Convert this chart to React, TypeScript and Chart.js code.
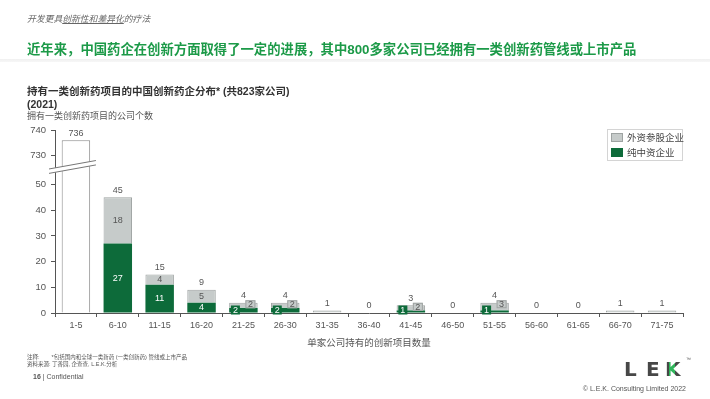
import React, { useEffect, useRef } from "react";
import { Chart, registerables, LinearScale } from "chart.js";

Chart.register(...registerables);

// ---------- DATA ----------
const categories = ["1-5", "6-10", "11-15", "16-20", "21-25", "26-30", "31-35", "36-40", "41-45", "46-50", "51-55", "56-60", "61-65", "66-70", "71-75"];
const firstBucket = [736, 0, 0, 0, 0, 0, 0, 0, 0, 0, 0, 0, 0, 0, 0];
const domesticOnly = [0, 27, 11, 4, 2, 2, 0, 0, 1, 0, 1, 0, 0, 0, 0];
const foreignInvested = [0, 18, 4, 5, 2, 2, 1, 0, 2, 0, 3, 0, 0, 1, 1];
const totals = [736, 45, 15, 9, 4, 4, 1, 0, 3, 0, 4, 0, 0, 1, 1];
const yTicks = [0, 10, 20, 30, 40, 50, 730, 740];
const BREAK_LOW = 50;
const BREAK_HIGH = 730;
const BREAK_GAP = 11.2;

const GREEN = "#0d6b3a";
const GREY = "#c6cbca";
const GREY_BORDER = "#9ea3a2";
const TEXT = "#555";
const FONT = '"Liberation Sans", "Noto Sans CJK SC", Arial, sans-serif';

function compress(v: number) {
  if (v <= BREAK_LOW) return v;
  if (v >= BREAK_HIGH) return BREAK_LOW + BREAK_GAP + (v - BREAK_HIGH);
  return BREAK_LOW + ((v - BREAK_LOW) / (BREAK_HIGH - BREAK_LOW)) * BREAK_GAP;
}

class BrokenLinearScale extends LinearScale {
  static id = "brokenLinear";
  static defaults = LinearScale.defaults;
  buildTicks() {
    return yTicks.map((value) => ({ value }));
  }
  getPixelForValue(value: number) {
    const lo = compress(this.min);
    const hi = compress(this.max);
    return this.getPixelForDecimal((compress(value) - lo) / (hi - lo));
  }
}
Chart.register(BrokenLinearScale);

function drawBox(ctx: CanvasRenderingContext2D, cx: number, cy: number, w: number, h: number, text: string, fill: string, color: string, border: string | null) {
  ctx.fillStyle = fill;
  ctx.fillRect(cx - w / 2, cy - h / 2, w, h);
  if (border) {
    ctx.strokeStyle = border;
    ctx.lineWidth = 1;
    ctx.strokeRect(cx - w / 2 + 0.5, cy - h / 2 + 0.5, w - 1, h - 1);
  }
  ctx.fillStyle = color;
  ctx.fillText(text, cx, cy + 0.5);
}

const labelPlugin = {
  id: "barLabels",
  afterDatasetsDraw(chart: any) {
    const { ctx } = chart;
    const x = chart.scales.x;
    const y = chart.scales.y;
    ctx.save();
    ctx.font = `9px ${FONT}`;
    ctx.textAlign = "center";
    ctx.textBaseline = "middle";
    categories.forEach((_, i) => {
      const cx = x.getPixelForValue(i);
      const base = y.getPixelForValue(0);
      const top = y.getPixelForValue(totals[i]);
      ctx.fillStyle = TEXT;
      ctx.fillText(String(totals[i]), cx, top - 7);
      const g = domesticOnly[i];
      const f = foreignInvested[i];
      if (totals[i] >= 9) {
        const gTop = y.getPixelForValue(g);
        if (g) {
          ctx.fillStyle = "#fff";
          ctx.fillText(String(g), cx, (base + gTop) / 2);
        }
        if (f) {
          ctx.fillStyle = TEXT;
          ctx.fillText(String(f), cx, (gTop + top) / 2);
        }
      } else if (g && f) {
        drawBox(ctx, cx - 8, base - 3, 9, 9, String(g), GREEN, "#fff", null);
        drawBox(ctx, cx + 7, top + 1.5, 10, 8, String(f), GREY, TEXT, GREY_BORDER);
      }
    });
    ctx.restore();
  },
};

const breakPlugin = {
  id: "axisBreak",
  afterDraw(chart: any) {
    const { ctx, chartArea } = chart;
    const x = chart.scales.x;
    const y = chart.scales.y;
    const yb = (y.getPixelForValue(BREAK_LOW) + y.getPixelForValue(BREAK_HIGH)) / 2;
    const x0 = chartArea.left - 6;
    const x1 = x.getPixelForValue(0) + 20;
    const slope = -0.18;
    const at = (px: number, off: number) => yb + off + (px - chartArea.left) * slope;
    ctx.save();
    ctx.fillStyle = "#fff";
    ctx.beginPath();
    ctx.moveTo(x0, at(x0, -2.2));
    ctx.lineTo(x1, at(x1, -2.2));
    ctx.lineTo(x1, at(x1, 2.2));
    ctx.lineTo(x0, at(x0, 2.2));
    ctx.closePath();
    ctx.fill();
    ctx.strokeStyle = "#777";
    ctx.lineWidth = 1;
    [-2.2, 2.2].forEach((off) => {
      ctx.beginPath();
      ctx.moveTo(x0, at(x0, off));
      ctx.lineTo(x1, at(x1, off));
      ctx.stroke();
    });
    ctx.restore();
  },
};

const nz = (arr: number[]) => arr.map((v) => (v ? v : null));

export default function App() {
  const canvasRef = useRef<HTMLCanvasElement | null>(null);

  useEffect(() => {
    if (!canvasRef.current) return;
    const chart = new Chart(canvasRef.current, {
      type: "bar",
      data: {
        labels: categories,
        datasets: [
          {
            label: "1-5",
            data: nz(firstBucket),
            backgroundColor: "#fff",
            borderColor: "#8a8a8a",
            borderWidth: 1,
            borderSkipped: "start",
          },
          {
            label: "纯中资企业",
            data: nz(domesticOnly),
            backgroundColor: GREEN,
            borderWidth: 0,
          },
          {
            label: "外资参股企业",
            data: nz(foreignInvested),
            backgroundColor: GREY,
            borderColor: GREY_BORDER,
            borderWidth: 1,
          },
        ],
      },
      options: {
        responsive: false,
        animation: false,
        devicePixelRatio: 1,
        layout: { padding: { top: 130, right: 27, bottom: 41, left: 0 } },
        datasets: { bar: { barPercentage: 0.68, categoryPercentage: 1 } },
        plugins: { legend: { display: false }, tooltip: { enabled: false }, title: { display: false } },
        scales: {
          x: {
            stacked: true,
            offset: true,
            grid: { display: true, drawOnChartArea: false, drawTicks: true, tickLength: 4, color: "#555", offset: true },
            border: { display: true, color: "#555", width: 1 },
            ticks: { color: TEXT, font: { family: FONT, size: 9 }, padding: 3, maxRotation: 0, autoSkip: false },
            title: { display: true, text: "单家公司持有的创新项目数量", color: TEXT, font: { family: FONT, size: 9.5 }, padding: { top: 0, bottom: 9 } },
            afterFit: (s: any) => {
              s.height = 45;
            },
          },
          y: {
            type: "brokenLinear" as any,
            stacked: true,
            min: 0,
            max: 740,
            grid: { display: true, drawOnChartArea: false, drawTicks: true, tickLength: 4, color: "#555" },
            border: { display: true, color: "#555", width: 1 },
            ticks: { color: TEXT, font: { family: FONT, size: 9.5 }, padding: 5, autoSkip: false, callback: (v: any) => String(v) },
            afterFit: (s: any) => {
              s.width = 55;
            },
          },
        },
      },
      plugins: [labelPlugin, breakPlugin],
    } as any);
    return () => chart.destroy();
  }, []);

  const abs = (style: React.CSSProperties): React.CSSProperties => ({ position: "absolute", whiteSpace: "nowrap", ...style });
  const logoLetter: React.CSSProperties = { fontSize: 20, fontWeight: "bold", fontFamily: '"DejaVu Sans", sans-serif', color: "#474747", lineHeight: "20px" };

  return (
    <div style={{ position: "fixed", left: 0, top: 0, width: 710, height: 399, background: "#fff", overflow: "hidden", fontFamily: FONT }}>
      <canvas ref={canvasRef} width={710} height={399} style={{ position: "absolute", left: 0, top: 0, width: 710, height: 399 }} />
      <div style={abs({ left: 27, top: 12, fontSize: 8.8, fontStyle: "italic", color: "#666" })}>
        开发更具<span style={{ textDecoration: "underline" }}>创新性和差异化</span>的疗法
      </div>
      <div style={abs({ left: 27, top: 39, fontSize: 13.35, fontWeight: "bold", color: "#1c9a48" })}>
        近年来，中国药企在创新方面取得了一定的进展，其中800多家公司已经拥有一类创新药管线或上市产品
      </div>
      <div style={abs({ left: 0, top: 59, width: 710, height: 3, background: "linear-gradient(#f0f0f0, #f7f7f7)" })} />
      <div style={abs({ left: 27, top: 85, fontSize: 10.5, fontWeight: "bold", color: "#333", lineHeight: "12.5px" })}>
        持有一类创新药项目的中国创新药企分布* (共823家公司)
        <br />
        (2021)
      </div>
      <div style={abs({ left: 27, top: 109, fontSize: 9, color: TEXT })}>拥有一类创新药项目的公司个数</div>

      <div style={abs({ left: 607, top: 129, width: 76, height: 32, border: "1px solid #d4d4d4", boxSizing: "border-box", background: "#fff" })}>
        <div style={abs({ left: 3, top: 3, width: 12, height: 9, background: GREY, border: `1px solid ${GREY_BORDER}`, boxSizing: "border-box" })} />
        <div style={abs({ left: 19, top: 1, fontSize: 9.5, color: "#444", lineHeight: "13px" })}>外资参股企业</div>
        <div style={abs({ left: 3, top: 18, width: 12, height: 9, background: GREEN })} />
        <div style={abs({ left: 19, top: 16, fontSize: 9.5, color: "#444", lineHeight: "13px" })}>纯中资企业</div>
      </div>

      <div style={abs({ left: 27, top: 354, fontSize: 5.5, color: "#555", lineHeight: "7px" })}>
        注释:<span style={{ marginLeft: 12 }}>*包括国内和全球一类新药 (一类创新药) 管线或上市产品</span>
        <br />
        资料来源: 丁香园, 企查查, L.E.K.分析
      </div>
      <div style={abs({ left: 33, top: 373, fontSize: 7, color: "#555" })}>
        <b>16</b> | Confidential
      </div>
      <div style={abs({ left: 624, top: 359, ...logoLetter })}>L</div>
      <div style={abs({ left: 646, top: 359, ...logoLetter })}>E</div>
      <div style={abs({ left: 665, top: 359, ...logoLetter })}>
        <span style={{ background: "linear-gradient(90deg, #474747 0 28%, #2fb55a 28% 62%, #474747 62%)", WebkitBackgroundClip: "text", backgroundClip: "text", color: "transparent" }}>K</span>
      </div>
      <div style={abs({ left: 686, top: 356, fontSize: 5, color: "#555" })}>™</div>
      <div style={abs({ right: 24, top: 385, fontSize: 7, color: "#555" })}>© L.E.K. Consulting Limited 2022</div>
    </div>
  );
}
